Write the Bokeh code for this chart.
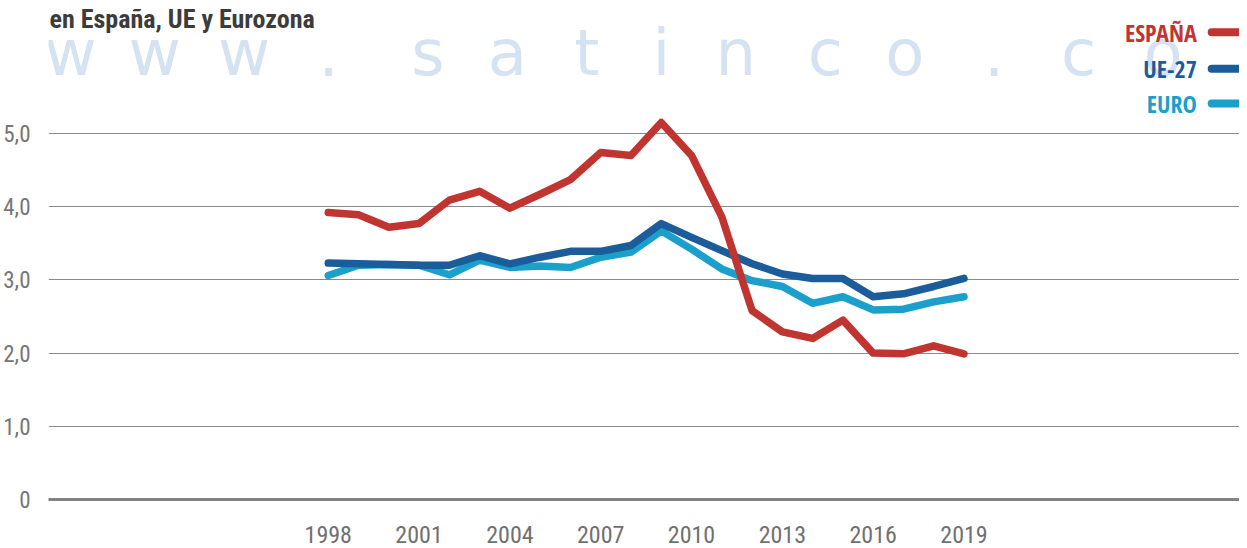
from bokeh.plotting import figure
from bokeh.models import ColumnDataSource, FixedTicker, Label, Range1d
from bokeh.core.properties import value
from bokeh.embed import file_html
from bokeh.resources import INLINE

# ---- data ----
years = [1998, 1999, 2000, 2001, 2002, 2003, 2004, 2005, 2006, 2007, 2008,
         2009, 2010, 2011, 2012, 2013, 2014, 2015, 2016, 2017, 2018, 2019]
espana = [3.92, 3.89, 3.72, 3.77, 4.09, 4.21, 3.98, 4.17, 4.37, 4.74, 4.70,
          5.15, 4.70, 3.86, 2.58, 2.29, 2.20, 2.45, 2.00, 1.99, 2.10, 1.99]
ue27 = [3.23, 3.22, 3.21, 3.20, 3.20, 3.33, 3.22, 3.31, 3.39, 3.39, 3.47,
        3.77, 3.58, 3.40, 3.22, 3.08, 3.02, 3.02, 2.77, 2.81, 2.91, 3.02]
euro = [3.06, 3.20, 3.21, 3.20, 3.07, 3.27, 3.17, 3.19, 3.17, 3.31, 3.38,
        3.67, 3.42, 3.15, 2.99, 2.91, 2.68, 2.77, 2.59, 2.60, 2.70, 2.77]
series_names = ["ESPAÑA", "UE-27", "EURO"]
series_colors = ["#c13531", "#1b5c9b", "#1ba0cc"]
x_ticks = [1998, 2001, 2004, 2007, 2010, 2013, 2016, 2019]
y_ticks = [0, 1, 2, 3, 4, 5]
y_tick_labels = {0: "0", 1: "1,0", 2: "2,0", 3: "3,0", 4: "4,0", 5: "5,0"}
title_text = "en España, UE y Eurozona"
watermark = "www.satinco.co"

FONT = "Roboto Condensed"
LEG_FONT = "Open Sans Condensed"

# ---- layout ----
W, H = 1239, 548
LEFT, BOTTOM = 40, 49
X0, X1 = 1988.76, 2028.10
Y0 = 0.0
PPY = 73.2
Y1 = Y0 + (H - BOTTOM) / PPY
PPX = (W - LEFT) / (X1 - X0)
OFF_X, OFF_Y = 8, 0  # where the figure sits in the page


def dx(px):  # page pixel -> data x
    return X0 + (px - OFF_X - LEFT) / PPX


def dy(py):  # page pixel -> data y
    return Y0 + (H - BOTTOM - (py - OFF_Y)) / PPY


p = figure(width=W, height=H, output_backend="svg", toolbar_location=None,
           x_range=Range1d(X0, X1), y_range=Range1d(Y0, Y1),
           min_border_left=LEFT, min_border_right=0, min_border_top=0,
           min_border_bottom=BOTTOM)
p.outline_line_color = None
p.background_fill_color = "white"
p.border_fill_color = "white"

# faint watermark band
wm_px = [70, 155, 245, 330, 430, 510, 590, 665, 740, 830, 910, 1000, 1085, 1170]
p.text(x=[dx(v) for v in wm_px], y=[dy(52)] * len(watermark), text=list(watermark),
       text_font=value("DejaVu Sans"), text_font_size="64px",
       text_color="#8fb2da", text_alpha=0.38, text_align="center",
       text_baseline="alphabetic")

# grid
p.xgrid.grid_line_color = None
p.ygrid.ticker = FixedTicker(ticks=y_ticks)
p.ygrid.grid_line_color = "#8a8a8a"
p.ygrid.grid_line_width = 1

# axes
p.xaxis.ticker = FixedTicker(ticks=x_ticks)
p.xaxis.axis_line_color = "#828282"
p.xaxis.axis_line_width = 3
p.xaxis.major_tick_line_color = None
p.xaxis.minor_tick_line_color = None
p.xaxis.major_label_standoff = 20
p.xaxis.major_label_text_font = FONT
p.xaxis.major_label_text_font_size = "24px"
p.xaxis.major_label_text_color = "#707070"

p.yaxis.ticker = FixedTicker(ticks=y_ticks)
p.yaxis.major_label_overrides = y_tick_labels
p.yaxis.axis_line_color = None
p.yaxis.major_tick_line_color = None
p.yaxis.minor_tick_line_color = None
p.yaxis.major_label_standoff = 12
p.yaxis.major_label_text_font = FONT
p.yaxis.major_label_text_font_size = "23px"
p.yaxis.major_label_text_color = "#767676"

# lines (drawn so that ESPAÑA is on top)
src = ColumnDataSource(dict(year=years, espana=espana, ue27=ue27, euro=euro))
for col, color in [("euro", series_colors[2]), ("ue27", series_colors[1]),
                   ("espana", series_colors[0])]:
    p.line("year", col, source=src, line_color=color, line_width=7.5,
           line_join="round", line_cap="round")

# legend (text right-aligned, line swatch to its right)
leg_y = [dy(31.7), dy(68.3), dy(103)]
leg = ColumnDataSource(dict(name=series_names, color=series_colors, y=leg_y,
                            tx=[dx(1204)] * 3, x0=[dx(1219)] * 3,
                            x1=[dx(1260)] * 3))
p.segment(x0="x0", y0="y", x1="x1", y1="y", source=leg, line_color="color",
          line_width=8, line_cap="round")
p.text(x="tx", y="y", text="name", source=leg, text_color="color",
       text_font=value(LEG_FONT), text_font_style="bold", text_font_size="24px",
       text_align="right", text_baseline="middle")

# title
p.add_layout(Label(x=dx(49), y=dy(3), text=title_text, text_font=FONT,
                   text_font_style="bold", text_font_size="26px",
                   text_color="#3c3c3c", text_align="left",
                   text_baseline="top"))

open("out.html", "w").write(file_html(p, INLINE))
